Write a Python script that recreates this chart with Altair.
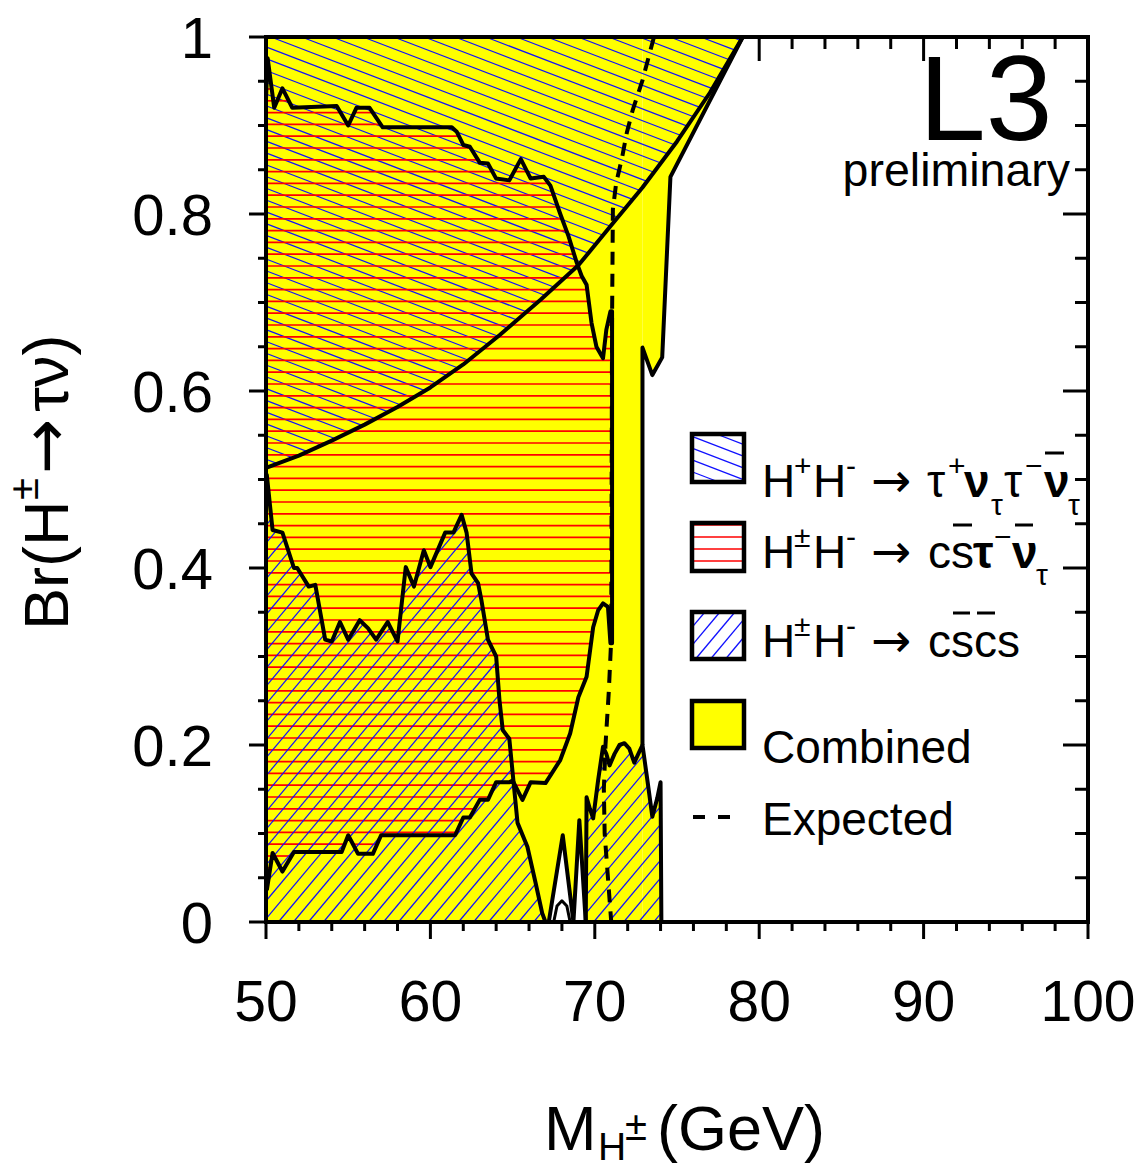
import altair as alt
import numpy as np
import pandas as pd

# ---------------- data ----------------
# tau-nu tau-nu exclusion boundary (region above is excluded)
TT_X = [50.0, 52.0, 54.0, 56.0, 58.0, 60.0, 62.0, 64.2, 66.7, 69.0, 70.9, 72.9, 75.0, 77.0, 79.0]
TT_Y = [0.513, 0.527, 0.544, 0.562, 0.582, 0.604, 0.630, 0.663, 0.703, 0.742, 0.785, 0.830, 0.882, 0.937, 1.0]

# cs tau-nu : upper boundary
B_X = [50.0, 50.1, 50.5, 51.0, 51.6, 54.3, 55.0, 55.5, 56.3, 57.1, 61.3, 61.6, 62.0, 62.4, 63.0, 63.5,
       64.0, 64.8, 65.5, 66.1, 66.9, 67.3, 67.9, 68.4, 68.9, 69.2, 69.5, 69.8, 70.1, 70.5, 70.7, 70.95]
B_Y = [0.93, 0.976, 0.92, 0.942, 0.92, 0.922, 0.90, 0.92, 0.92, 0.898, 0.898, 0.893, 0.878, 0.876, 0.858, 0.857,
       0.840, 0.838, 0.862, 0.840, 0.842, 0.832, 0.80, 0.775, 0.745, 0.73, 0.72, 0.677, 0.65, 0.637, 0.669, 0.69]
EDGE_X = 71.05
# cs tau-nu : lower boundary
C_X = [50.0, 50.05, 50.4, 51.0, 51.7, 54.6, 55.0, 55.6, 56.5, 57.0, 61.5, 62.0, 62.4, 63.0, 63.5, 64.0,
       64.8, 65.0, 65.6, 66.1, 67.0, 67.9, 68.5, 69.0, 69.5, 69.9, 70.2, 70.5, 70.8, 70.95, 71.05]
C_Y = [0.03, 0.036, 0.078, 0.057, 0.079, 0.079, 0.098, 0.077, 0.077, 0.098, 0.098, 0.118, 0.118, 0.138, 0.138, 0.158,
       0.158, 0.16, 0.138, 0.158, 0.157, 0.183, 0.213, 0.254, 0.277, 0.333, 0.352, 0.36, 0.356, 0.315, 0.315]

# cscs : first region upper boundary
D_X = [50.0, 50.05, 50.4, 51.0, 51.7, 51.9, 52.6, 53.0, 53.6, 54.0, 54.5, 55.0, 55.7, 56.2, 56.7, 57.4, 58.0,
       58.5, 59.0, 59.6, 60.0, 60.9, 61.4, 61.9, 62.2, 62.5, 62.9, 63.1, 63.5, 64.0, 64.2, 64.4, 64.8, 65.3,
       65.9, 66.4, 66.8, 67.0]
D_Y = [0.50, 0.505, 0.443, 0.44, 0.40, 0.40, 0.379, 0.381, 0.319, 0.317, 0.339, 0.319, 0.341, 0.332, 0.319, 0.339, 0.317,
       0.401, 0.379, 0.42, 0.401, 0.44, 0.44, 0.46, 0.44, 0.394, 0.383, 0.364, 0.319, 0.30, 0.251, 0.217, 0.207, 0.112,
       0.085, 0.044, 0.01, 0.0]

# cscs : second region
CS2_X = [69.45, 69.5, 69.7, 69.9, 70.2, 70.5, 70.7, 70.9, 71.2, 71.5, 71.8, 72.1, 72.4, 72.9, 73.2, 73.5, 73.8, 74.0, 74.05]
CS2_Y = [0.0, 0.141, 0.128, 0.117, 0.16, 0.198, 0.19, 0.177, 0.19, 0.2, 0.202, 0.196, 0.18, 0.2, 0.16, 0.119, 0.14, 0.158, 0.0]

# combined: right-hand notch boundary
COMB_X = [79.0, 74.6, 74.1, 73.5, 72.9, 72.9]
COMB_Y = [1.0, 0.842, 0.638, 0.618, 0.649, 0.2]

# not-excluded spikes near the bottom
W_X = [67.2, 68.05, 68.7, 69.06, 69.45]
W_Y = [0.0, 0.098, 0.0, 0.115, 0.0]
HUMP_X = [67.5, 67.7, 68.0, 68.3, 68.5]
HUMP_Y = [0.0, 0.018, 0.024, 0.018, 0.0]

# expected limit
EXP_X = [73.6, 72.9, 72.3, 71.95, 71.65, 71.3, 71.1, 71.05, 71.0, 70.85, 70.65, 70.55, 70.6, 70.8, 71.0]
EXP_Y = [1.0, 0.951, 0.917, 0.892, 0.863, 0.835, 0.805, 0.68, 0.32, 0.26, 0.2, 0.15, 0.1, 0.05, 0.0]

X_MAJOR = [50, 60, 70, 80, 90, 100]
X_LABELS = ["50", "60", "70", "80", "90", "100"]
X_MINOR = [v for v in range(52, 100, 2) if v % 10 != 0]
Y_MAJOR = [0, 0.2, 0.4, 0.6, 0.8, 1]
Y_LABELS = ["0", "0.2", "0.4", "0.6", "0.8", "1"]
Y_MINOR = [round(0.05 * k, 2) for k in range(1, 20) if k % 4 != 0]

# ---------------- layout ----------------
W, H = 822, 885
LEFT, TOP = 266, 37
X0, X1, Y0, Y1 = 50.0, 100.0, 0.0, 1.0
SX = W / (X1 - X0)
SY = H / (Y1 - Y0)
FONT = "Liberation Sans"
ARROW_FONT = "DejaVu Sans"
BLUE = "#1010ff"
RED = "#ff0000"
YELLOW = "#ffff00"


def X(f):
    return alt.X(f, type="quantitative", scale=alt.Scale(domain=[X0, X1], nice=False, zero=False), axis=None)


def Y(f):
    return alt.Y(f, type="quantitative", scale=alt.Scale(domain=[Y0, Y1], nice=False, zero=False), axis=None, stack=None)


def hatch_segments(px, py, angle, spacing, phase=0.0):
    px = np.asarray(px, float)
    py = np.asarray(py, float)
    a = np.deg2rad(angle)
    d = np.array([np.cos(a), np.sin(a)])
    n = np.array([-np.sin(a), np.cos(a)])
    s = px * n[0] + py * n[1]
    t = px * d[0] + py * d[1]
    s2 = np.roll(s, -1)
    t2 = np.roll(t, -1)
    segs = []
    c = np.floor((s.min() - phase) / spacing) * spacing + phase + spacing
    while c < s.max():
        cross = []
        for i in range(len(s)):
            sa, sb = s[i], s2[i]
            if (sa <= c < sb) or (sb <= c < sa):
                u = (c - sa) / (sb - sa)
                cross.append(t[i] + u * (t2[i] - t[i]))
        cross.sort()
        for k in range(0, len(cross) - 1, 2):
            ta, tb = cross[k], cross[k + 1]
            segs.append((ta * d[0] + c * n[0], ta * d[1] + c * n[1],
                         tb * d[0] + c * n[0], tb * d[1] + c * n[1]))
        c += spacing
    return segs


def hatch_df(xs, ys, angle, spacing, phase=0.0):
    px = (np.asarray(xs, float) - X0) * SX
    py = (np.asarray(ys, float) - Y0) * SY
    arr = np.array(hatch_segments(px, py, angle, spacing, phase))
    return pd.DataFrame({"x": arr[:, 0] / SX + X0, "y": arr[:, 1] / SY + Y0,
                         "x2": arr[:, 2] / SX + X0, "y2": arr[:, 3] / SY + Y0})


def rules(df, color, width):
    return alt.Chart(df).mark_rule(color=color, strokeWidth=width).encode(
        x=X("x"), y=Y("y"), x2="x2", y2="y2")


def path(xs, ys, width=4, dash=None, color="black"):
    df = pd.DataFrame({"x": xs, "y": ys, "i": range(len(xs))})
    kw = dict(color=color, strokeWidth=width, strokeJoin="round", strokeCap="butt")
    if dash:
        kw["strokeDash"] = dash
    return alt.Chart(df).mark_line(**kw).encode(x=X("x"), y=Y("y"), order="i:Q")


def area(xs, top, bottom, color):
    df = pd.DataFrame({"x": xs, "top": top, "bot": bottom})
    return alt.Chart(df).mark_area(color=color, opacity=1, interpolate="linear").encode(
        x=X("x"), y=Y("top"), y2="bot")


def px2x(v):
    return X0 + (v - LEFT) / SX


def px2y(v):
    return Y0 + (TOP + H - v) / SY


frame = pd.DataFrame({"a": [0]})
layers = []

# ---- inner ticks on top / right (drawn first so fills cover them) ----
tick_x = pd.DataFrame({"x": X_MAJOR})
tick_xm = pd.DataFrame({"x": X_MINOR})
tick_y = pd.DataFrame({"y": Y_MAJOR})
tick_ym = pd.DataFrame({"y": Y_MINOR})
layers += [
    alt.Chart(tick_x).mark_rule(color="black", strokeWidth=3).encode(x=X("x"), y=alt.value(0), y2=alt.value(24)),
    alt.Chart(tick_xm).mark_rule(color="black", strokeWidth=3).encode(x=X("x"), y=alt.value(0), y2=alt.value(12)),
    alt.Chart(tick_y).mark_rule(color="black", strokeWidth=3).encode(y=Y("y"), x=alt.value(W), x2=alt.value(W - 25)),
    alt.Chart(tick_ym).mark_rule(color="black", strokeWidth=3).encode(y=Y("y"), x=alt.value(W), x2=alt.value(W - 13)),
]

# ---- combined (yellow) region ----
layers.append(area([50.0, 72.9], [1.0, 1.0], [0.0, 0.0], YELLOW))
cs2_tail = [i for i, v in enumerate(CS2_X) if v >= 72.9]
layers.append(area([COMB_X[i] for i in (5, 3, 2, 1, 0)], [1.0] * 5,
                   [COMB_Y[i] for i in (4, 3, 2, 1, 0)], YELLOW))
layers.append(area([CS2_X[i] for i in cs2_tail], [CS2_Y[i] for i in cs2_tail], [0.0] * len(cs2_tail), YELLOW))
layers.append(area(W_X, W_Y, [0.0] * len(W_X), "white"))

# ---- hatches ----
tt_px = TT_X + [50.0]
tt_py = TT_Y + [1.0]
red_px = B_X + [EDGE_X, EDGE_X] + C_X[::-1]
red_py = B_Y + [B_Y[-1], C_Y[-1]] + C_Y[::-1]
cs1_px = D_X + [50.0]
cs1_py = D_Y + [0.0]
layers.append(rules(hatch_df(tt_px, tt_py, -21, 11.0, 3.0), BLUE, 1.2))
layers.append(rules(hatch_df(red_px, red_py, 0, 11.8, 7.0), RED, 1.7))
layers.append(rules(hatch_df(cs1_px, cs1_py, 50, 11.5, 2.0), BLUE, 1.2))
layers.append(rules(hatch_df(CS2_X, CS2_Y, 50, 11.5, 2.0), BLUE, 1.2))

# ---- outlines ----
layers.append(path(TT_X, TT_Y))
layers.append(path(red_px[:-1], red_py[:-1]))
layers.append(path(D_X, D_Y))
layers.append(path(CS2_X, CS2_Y))
layers.append(path(COMB_X, COMB_Y))
layers.append(path(W_X, W_Y))
layers.append(path(HUMP_X, HUMP_Y, width=3))
layers.append(path(EXP_X, EXP_Y, width=4, dash=[13, 9]))

# ---- frame and outer axes ----
layers += [
    alt.Chart(frame).mark_rule(color="black", strokeWidth=4).encode(
        x=alt.value(-2), x2=alt.value(W + 2), y=alt.value(0)),
    alt.Chart(frame).mark_rule(color="black", strokeWidth=4).encode(
        x=alt.value(W), y=alt.value(0), y2=alt.value(H + 2)),
    alt.Chart(frame).mark_rule(color="black", strokeWidth=4).encode(
        x=alt.value(-2), x2=alt.value(W + 2), y=alt.value(H)),
    alt.Chart(frame).mark_rule(color="black", strokeWidth=4).encode(
        x=alt.value(0), y=alt.value(-2), y2=alt.value(H + 2)),
    alt.Chart(tick_x).mark_rule(color="black", strokeWidth=3).encode(x=X("x"), y=alt.value(H), y2=alt.value(H + 17)),
    alt.Chart(tick_xm).mark_rule(color="black", strokeWidth=3).encode(x=X("x"), y=alt.value(H), y2=alt.value(H + 9)),
    alt.Chart(tick_y).mark_rule(color="black", strokeWidth=3).encode(y=Y("y"), x=alt.value(0), x2=alt.value(-17)),
    alt.Chart(tick_ym).mark_rule(color="black", strokeWidth=3).encode(y=Y("y"), x=alt.value(0), x2=alt.value(-8)),
]
xl = pd.DataFrame({"x": X_MAJOR, "t": X_LABELS})
yl = pd.DataFrame({"y": Y_MAJOR, "t": Y_LABELS})
layers.append(alt.Chart(xl).mark_text(font=FONT, fontSize=57, color="black", align="center",
                                      baseline="alphabetic").encode(
    x=X("x"), y=alt.value(H + 99), text="t:N"))
layers.append(alt.Chart(yl).mark_text(font=FONT, fontSize=58, color="black", align="right",
                                      baseline="alphabetic", dy=21).encode(
    y=Y("y"), x=alt.value(-53), text="t:N"))

# ---- legend ----
LEG_BOXES = [(692, 434, 744, 482, "white"), (692, 523, 744, 571, "white"),
             (692, 612, 744, 659, "white"), (692, 701, 744, 748, YELLOW)]
box_df = pd.DataFrame([{"x": px2x(a), "x2": px2x(c), "y": px2y(b), "y2": px2y(d), "f": f}
                       for a, b, c, d, f in LEG_BOXES])
layers.append(alt.Chart(box_df).mark_rect().encode(
    x=X("x"), x2="x2", y=Y("y"), y2="y2", color=alt.Color("f:N", scale=None)))


def box_poly(i):
    a, b, c, d, _ = LEG_BOXES[i]
    return [px2x(a), px2x(c), px2x(c), px2x(a)], [px2y(b), px2y(b), px2y(d), px2y(d)]


bx, by = box_poly(0)
layers.append(rules(hatch_df(bx, by, -21, 11.0, 1.0), BLUE, 1.3))
bx, by = box_poly(1)
layers.append(rules(hatch_df(bx, by, 0, 12.0, 1.0), RED, 1.5))
bx, by = box_poly(2)
layers.append(rules(hatch_df(bx, by, 50, 11.5, 1.0), BLUE, 1.3))
layers.append(alt.Chart(box_df).mark_rect(fillOpacity=0, stroke="black", strokeWidth=4.5).encode(
    x=X("x"), x2="x2", y=Y("y"), y2="y2"))

# legend dash sample
for a, b in [(693, 705), (718, 730)]:
    layers.append(alt.Chart(frame).mark_rule(color="black", strokeWidth=4).encode(
        x=alt.value(a - LEFT), x2=alt.value(b - LEFT), y=alt.value(817 - TOP)))

# overbars
for a, b, yy in [(1045, 1064, 453), (953, 972, 525), (1015, 1033, 525), (953, 970, 613), (977, 995, 613)]:
    layers.append(alt.Chart(frame).mark_rule(color="black", strokeWidth=3).encode(
        x=alt.value(a - LEFT), x2=alt.value(b - LEFT), y=alt.value(yy - TOP)))

# text pieces: (text, x, y, size, kind)
TEXTS = [
    ("H", 762, 497, 46, False), ("+", 794, 476, 30, False), ("H", 813, 497, 46, False),
    ("-", 846, 476, 30, False), ("\u2192", 871, 497, 48, "arrow"), ("\u03c4", 927, 497, 46, False),
    ("+", 948, 476, 30, False), ("\u03bd", 964, 497, 46, True), ("\u03c4", 991, 515, 30, False),
    ("\u03c4", 1004, 497, 46, False), ("\u2212", 1025, 476, 30, False), ("\u03bd", 1044, 497, 46, True),
    ("\u03c4", 1068, 515, 30, False),
    ("H", 762, 568, 46, False), ("\u00b1", 794, 547, 30, False), ("H", 813, 568, 46, False),
    ("-", 846, 547, 30, False), ("\u2192", 871, 568, 48, "arrow"), ("cs", 928, 568, 46, False),
    ("\u03c4", 973, 568, 46, True), ("\u2212", 994, 547, 30, False), ("\u03bd", 1012, 568, 46, True),
    ("\u03c4", 1036, 585, 30, False),
    ("H", 762, 657, 46, False), ("\u00b1", 794, 636, 30, False), ("H", 813, 657, 46, False),
    ("-", 846, 636, 30, False), ("\u2192", 871, 657, 48, "arrow"), ("cscs", 928, 657, 46, False),
    ("Combined", 762, 763, 46, False), ("Expected", 762, 835, 46, False),
    ("M", 544, 1150, 63, False), ("H", 598, 1160, 39, False), ("\u00b1", 625, 1140, 40, False),
    ("(GeV)", 657, 1150, 63, False),
    ("L3", 919, 140, 120, False),
]
for t, x, y, s, kind in TEXTS:
    layers.append(alt.Chart(frame).mark_text(
        text=t, font=ARROW_FONT if kind == "arrow" else FONT, fontSize=s,
        fontWeight="bold" if kind is True else "normal", color="black",
        align="left", baseline="alphabetic").encode(x=alt.value(x - LEFT), y=alt.value(y - TOP)))

layers.append(alt.Chart(frame).mark_text(
    text="preliminary", font=FONT, fontSize=46.5, color="black", align="right", baseline="alphabetic"
).encode(x=alt.value(1070 - LEFT), y=alt.value(186 - TOP)))

# rotated y title
for t, x, y, s, f in [("Br(H", 68, 630, 63, FONT), ("\u00b1", 38, 500, 40, FONT),
                      ("\u2192", 68, 474, 66, ARROW_FONT), ("\u03c4\u03bd)", 68, 412, 63, FONT)]:
    layers.append(alt.Chart(frame).mark_text(
        text=t, font=f, fontSize=s, color="black", align="left", baseline="alphabetic", angle=270
    ).encode(x=alt.value(x - LEFT), y=alt.value(y - TOP)))

chart = alt.layer(*layers).properties(
    width=W, height=H,
    padding={"left": LEFT, "top": TOP, "right": 1143 - LEFT - W, "bottom": 1169 - TOP - H},
    autosize=alt.AutoSizeParams(type="none"),
    background="white",
).configure_view(stroke=None)

chart.save("out.html", embed_options={"renderer": "svg", "actions": False})
